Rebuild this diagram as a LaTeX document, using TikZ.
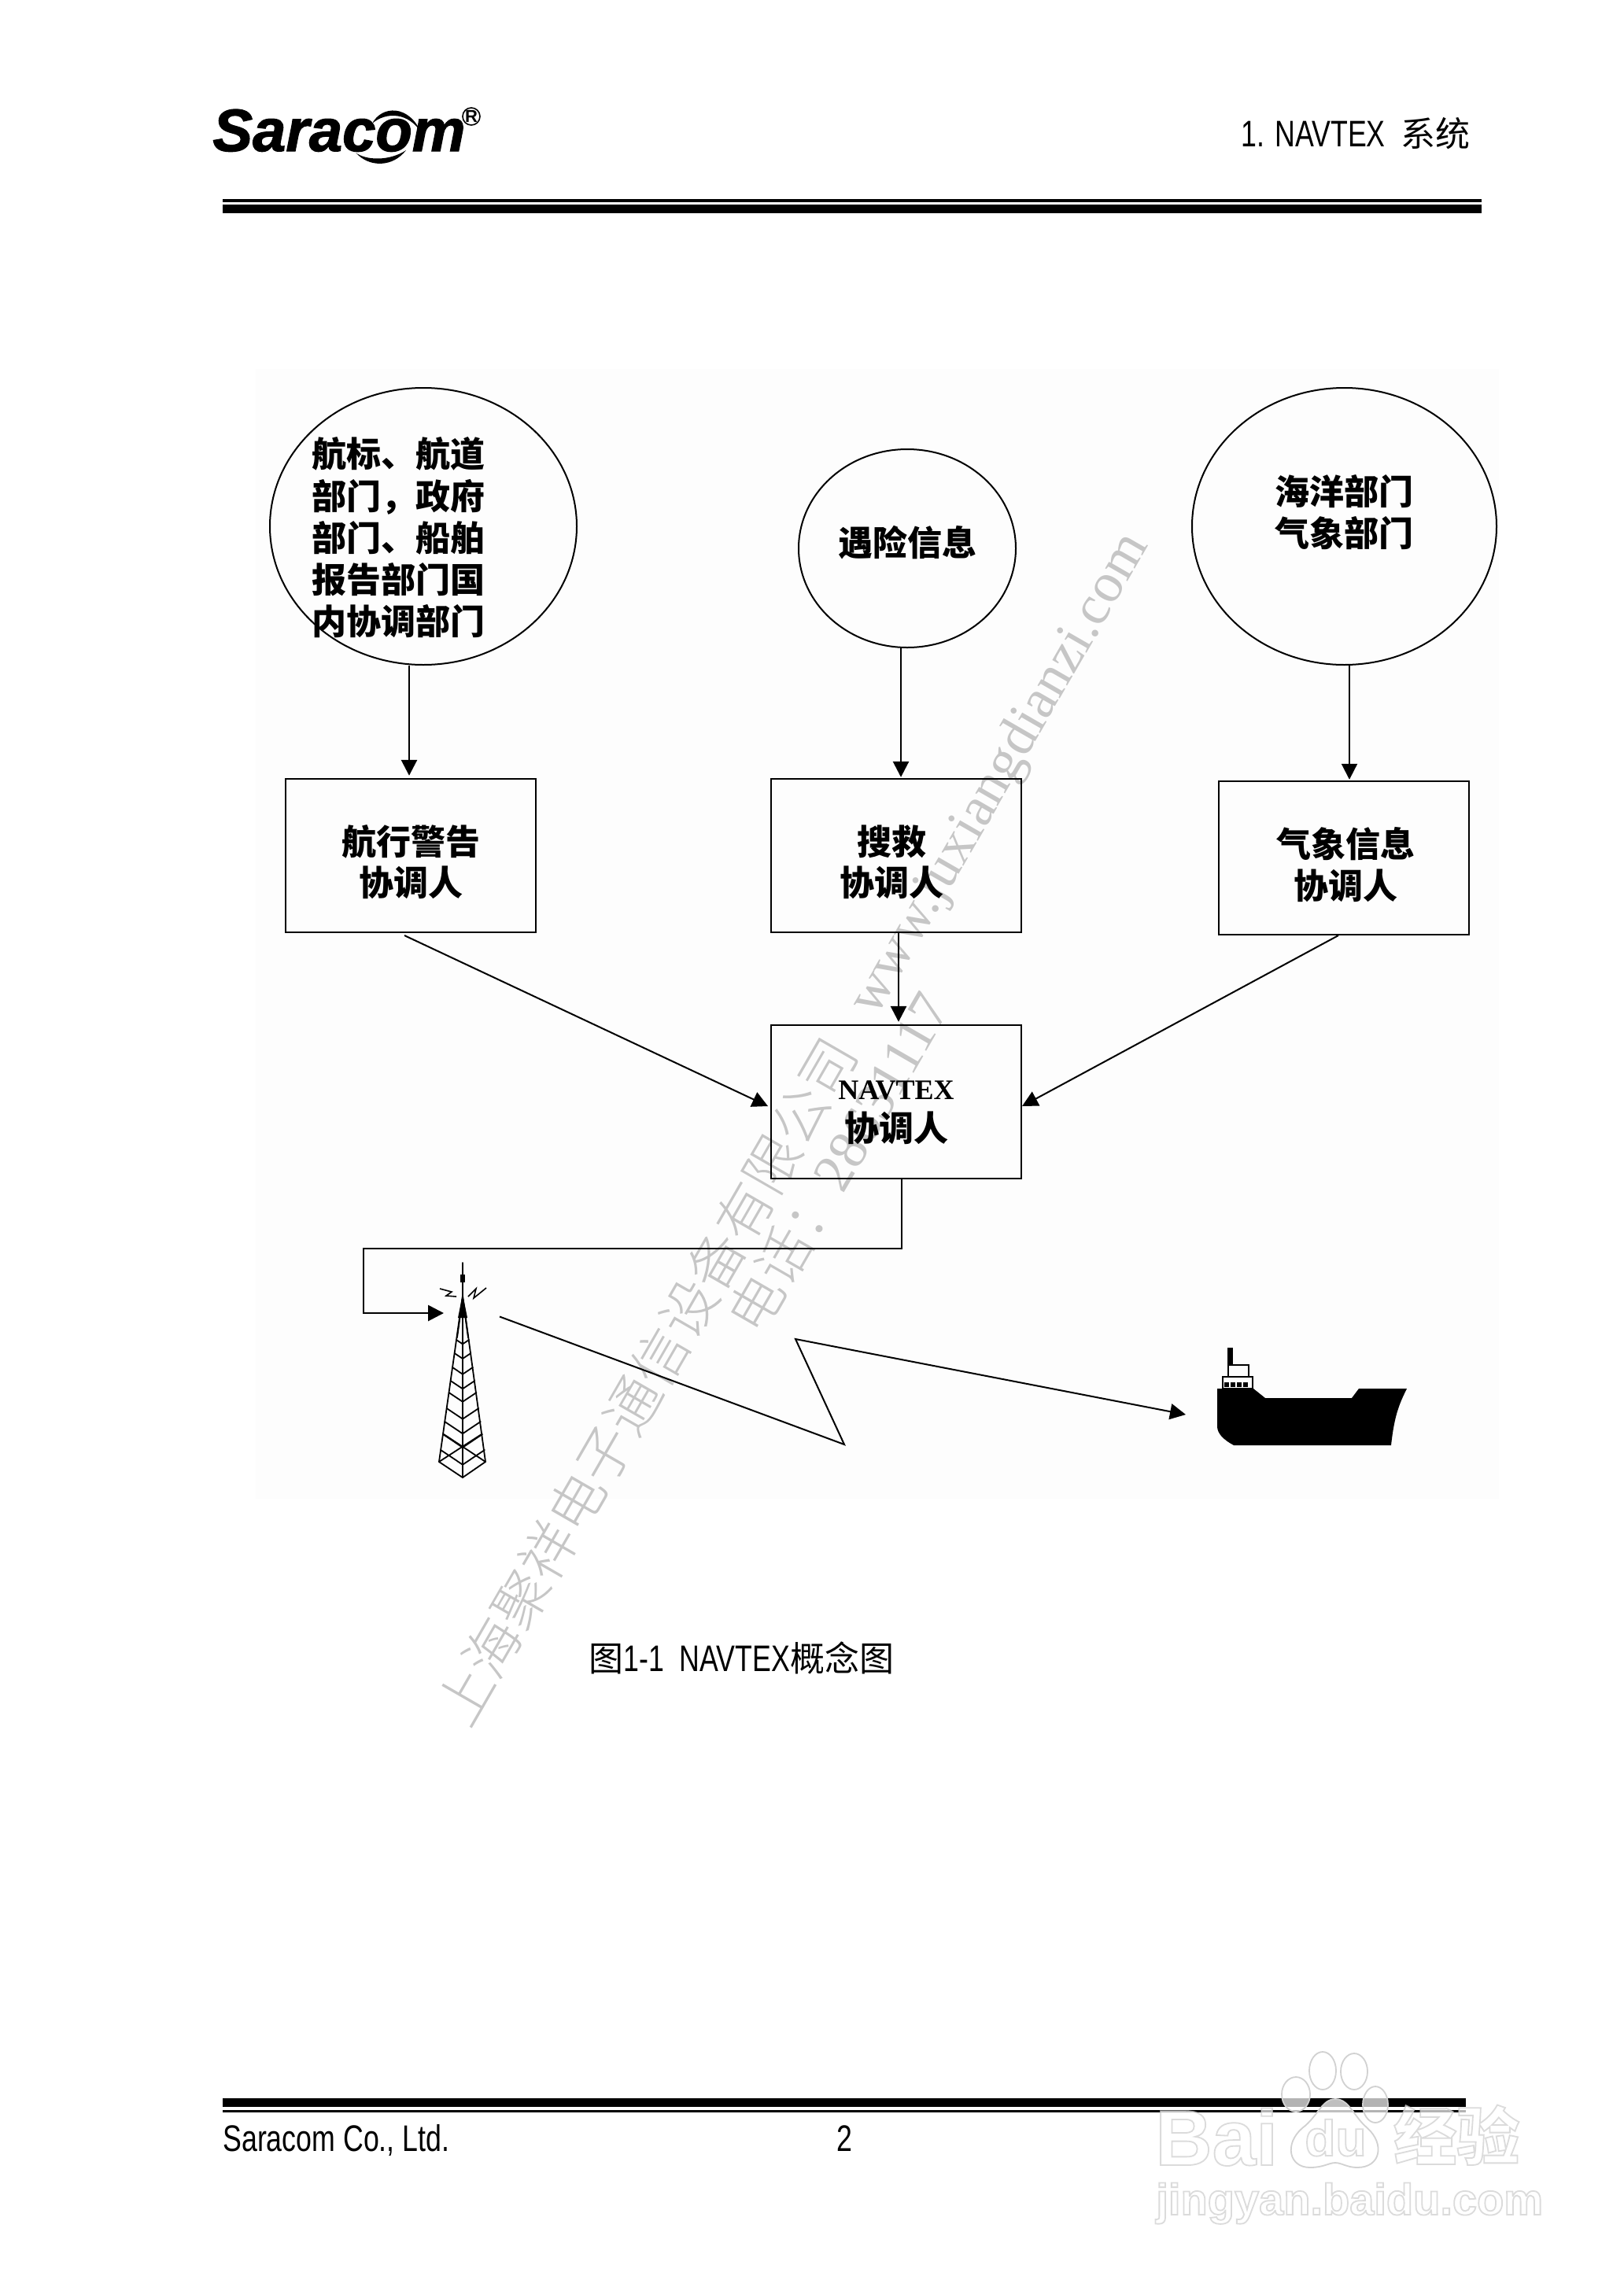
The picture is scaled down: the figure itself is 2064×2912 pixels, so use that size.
\documentclass[tikz,border=0pt]{standalone}
\usepackage{fontspec}
\usetikzlibrary{arrows.meta,shapes.geometric,calc}
\setmainfont{Liberation Sans}
\newfontfamily\cjk{Noto Sans CJK SC}
\newfontfamily\narrowf[FakeStretch=0.76]{Liberation Sans}
\newfontfamily\serf{Liberation Serif}
\newfontfamily\wmcjk{Noto Sans CJK SC Light}
\newfontfamily\logof[FakeBold=1.6]{Liberation Sans}
\newcommand\atoff[3]{\raisebox{\dimexpr #2-9pt\relax}[0pt][0pt]{\makebox[0pt][c]{\hspace{#1}\begin{tabular}{@{}c@{}}#3\end{tabular}}}}
\newcommand\outl[1]{\special{pdf:code 2 Tr 0.9 w 0.8 0.8 0.8 RG}#1\special{pdf:code 0 Tr 0 0 0 RG}}
\definecolor{wmgray}{HTML}{C6C6C6}
\definecolor{paper}{HTML}{FDFDFD}
\tikzset{
  x=0.5pt,y=-0.5pt,
  flowtext/.style={font=\cjk\bfseries\fontsize{22}{25}\selectfont,inner sep=0pt},
  circ/.style={flowtext,draw,ellipse,line width=1pt,minimum width=#1},
  boxn/.style={flowtext,draw,rectangle,line width=1.2pt,minimum width=159pt,minimum height=97.5pt},
  arr/.style={line width=1.4pt,-{Triangle[length=10pt,width=10pt]}},
  thinarr/.style={line width=1pt,-{Triangle[length=10pt,width=10pt]}},
  rulebar/.style={fill=black},
  watermark/.style={text=wmgray,rotate=60,inner sep=0pt},
  hdr/.style={font=\narrowf\fontsize{23.5}{28}\selectfont,inner sep=0pt,anchor=base west},
  towerline/.style={line width=0.9pt,line cap=round,line join=round},
  baidu/.style={text=white,text opacity=.7,inner sep=0pt,anchor=base west},
}
\begin{document}
\begin{tikzpicture}
\useasboundingbox (0,0) rectangle (2064,2912);
\fill[white] (0,0) rectangle (2064,2912);
\fill[paper] (325,469) rectangle (1905,1905);

% header
\fill[rulebar] (283,253) rectangle (1883,257);
\fill[rulebar] (283,260) rectangle (1883,271);
\node[hdr] (chap) at (1577,186) {1. NAVTEX {\cjk\fontsize{22}{26}\selectfont\ 系统}};
% logo
\node[font=\logof\bfseries\itshape\fontsize{38}{44}\selectfont,inner sep=0pt,anchor=base west] (logo) at (270,192) {Saracom};
\node[font=\fontsize{11}{12}\selectfont\bfseries,draw,circle,line width=.8pt,inner sep=0pt,minimum size=11pt] (reg) at (599,148) {R};
\fill (473,157) .. controls (485,134) and (520,132) .. (536,170) .. controls (520,142) and (490,142) .. (473,157) -- cycle;
\fill (452,194) .. controls (465,204) and (495,205) .. (516,191) .. controls (500,212) and (470,214) .. (452,194) -- cycle;

% watermarks
\node[watermark,font=\wmcjk\fontsize{35.5}{36}\selectfont] (wm1) at (821.5,1756) {上海聚祥电子通信设备有限公司};
\node[watermark,font=\fontsize{35}{36}\selectfont] (wm2) at (1065,1477) {{\wmcjk 电话：}{\serf 28631117}};
\node[watermark,font=\serf\fontsize{35.5}{36}\selectfont] (wm3) at (1272,985) {www.juxiangdianzi.com};

% source circles
\node[circ=195pt,minimum height=176pt] (c1) at (538,669) {\atoff{-32pt}{-6pt}{航标、航道\\部门，政府\\部门、船舶\\报告部门国\\内协调部门}};
\node[circ=138pt,minimum height=126pt] (c2) at (1153,697) {\atoff{0pt}{5pt}{遇险信息}};
\node[circ=193.5pt,minimum height=176pt] (c3) at (1708.5,669) {\atoff{0pt}{10pt}{海洋部门\\气象部门}};

% coordinators
\node[boxn] (b1) at (522,1087.5) {\atoff{0pt}{-3pt}{航行警告\\协调人}};
\node[boxn] (b2) at (1139,1087.5) {\atoff{-6pt}{-3pt}{搜救\\协调人}};
\node[boxn] (b3) at (1708,1090.5) {\atoff{2pt}{-3pt}{气象信息\\协调人}};
\node[boxn] (nav) at (1139,1400.5) {\atoff{0pt}{-3pt}{{\serf\fontsize{18}{20}\selectfont NAVTEX}\\协调人}};

% tower
\foreach \y in {1703,1720,1738,1755,1770,1790,1807,1823,1843}{
  \pgfmathsetmacro\d{30*(\y-1647)/211}
  \draw[towerline] (588-\d,\y) -- (588,\y+.67*\d) -- (588+\d,\y);
}
\draw[towerline] (588,1605) -- (588,1878);
\draw[towerline] (588,1647) -- (558,1858) -- (588,1878) -- (617,1858) -- (588,1647);
\draw[towerline] (558,1858) -- (612,1823) (617,1858) -- (564,1823);
\draw[towerline] (588,1650) -- (581,1700) (588,1650) -- (595,1700);
\fill (588,1645) -- (582,1675) -- (594,1675) -- cycle;
\fill (585,1620) rectangle (591,1630);
\draw[line width=.8pt] (559,1638) -- (574,1642) -- (567,1647) -- (580,1648);
\draw[line width=.8pt] (595,1648) -- (605,1638) -- (602,1650) -- (618,1637);
\coordinate (towerin) at (564,1669);
\coordinate (towerout) at (635,1673.5);

% ship
\fill (1547,1765) -- (1593,1765) -- (1608,1777) -- (1718,1777) -- (1727,1765) -- (1788,1765)
  .. controls (1778,1785) and (1772,1800) .. (1768,1837) -- (1568,1837) .. controls (1555,1830) and (1547,1822) .. (1547,1813) -- cycle;
\draw[line width=1pt] (1553.5,1765) rectangle (1592,1750);
\draw[line width=1pt] (1560.5,1750) rectangle (1587,1735);
\fill (1560,1713) rectangle (1567,1735);
\foreach \x in {1556,1564,1572,1580}{\fill (\x,1757) rectangle (\x+6,1763);}
\coordinate (shipin) at (1507,1798);

% connectors
\draw[arr] ([xshift=-1pt]b1.north |- c1.south) -- ([xshift=-1pt,yshift=1.5pt]b1.north);
\draw[arr] ([xshift=3pt]b2.north |- c2.south) -- ([xshift=3pt,yshift=.5pt]b2.north);
\draw[thinarr] ([xshift=3.5pt]b3.north |- c3.south) -- ([xshift=3.5pt,yshift=.5pt]b3.north);
\draw[arr] ([xshift=1.5pt]b2.south) -- ([xshift=1.5pt,yshift=1.5pt]nav.north);
\coordinate (b1out) at (514,1189);
\coordinate (b3out) at (1701,1189);
\coordinate (navl) at (976,1406);
\coordinate (navr) at (1299,1406);
\draw[thinarr] (b1out) -- (navl);
\draw[thinarr] (b3out) -- (navr);
\coordinate (bus) at (462,1587);
\draw[arr,line join=miter] ([xshift=3.5pt]nav.south) |- (bus) |- (towerin);
\coordinate (zig1) at (1073,1836);
\coordinate (zig2) at (1011,1702);
\draw[thinarr] (towerout) -- (zig1) -- (zig2) -- (shipin);

% caption and footer
\node[hdr] (cap) at (748,2124) {{\cjk\fontsize{22}{26}\selectfont 图}1-1\ \ NAVTEX{\cjk\fontsize{22}{26}\selectfont 概念图}};
\fill[rulebar] (283,2667) rectangle (1863,2678);
\fill[rulebar] (283,2682) rectangle (1863,2685);
\node[hdr] (foot) at (283,2734) {Saracom Co., Ltd.};
\node[hdr] (page) at (1063,2734) {2};

% baidu mark
\foreach \cx/\cy/\rx/\ry in {1681/2632/17/24,1721/2633/17/23,1647/2662/18/22,1748/2675/16/23}{
  \filldraw[draw=black!18,fill=white,fill opacity=.7,line width=.9pt] (\cx,\cy) ellipse[x radius=\rx*.5pt,y radius=\ry*.5pt];
}
\filldraw[draw=black!18,fill=white,fill opacity=.75,line width=.9pt] (1697,2668)
  .. controls (1715,2668) and (1720,2690) .. (1738,2705)
  .. controls (1760,2725) and (1755,2755) .. (1725,2755)
  .. controls (1712,2755) and (1705,2749) .. (1697,2749)
  .. controls (1689,2749) and (1682,2755) .. (1665,2755)
  .. controls (1638,2755) and (1632,2725) .. (1655,2705)
  .. controls (1675,2690) and (1680,2668) .. (1697,2668) -- cycle;
\node[baidu,font=\bfseries\fontsize{50}{50}\selectfont] (bd1) at (1468,2752) {\outl{Bai}};
\node[baidu,font=\bfseries\fontsize{32}{32}\selectfont] (bd2) at (1658,2740) {\outl{du}};
\node[baidu,font=\cjk\bfseries\fontsize{40}{40}\selectfont] (bd3) at (1771,2745) {\outl{经验}};
\node[baidu,font=\bfseries\fontsize{28}{28}\selectfont] (bd4) at (1469,2815) {\outl{jingyan.baidu.com}};
\end{tikzpicture}
\end{document}
